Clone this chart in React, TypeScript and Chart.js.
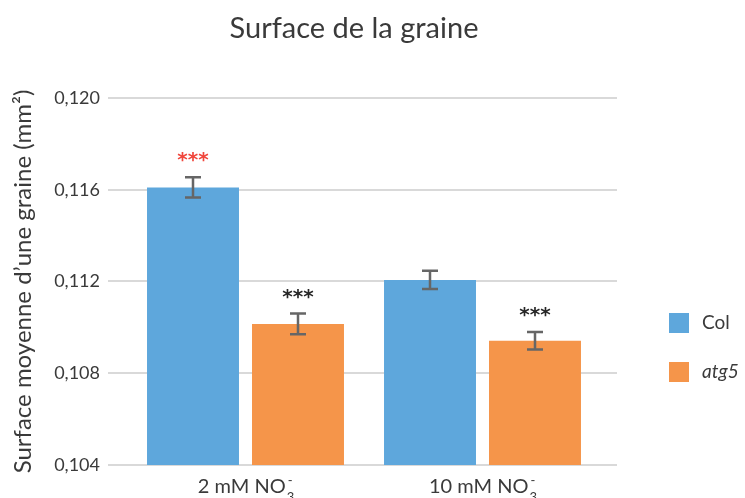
import React, { useEffect, useRef } from 'react';
import { Chart, registerables } from 'chart.js';

Chart.register(...registerables);

// ---- data ----
const categories = ['2 mM NO', '10 mM NO'];
const categorySub = ['3', '3'];
const categorySup = ['-', '-'];
const seriesNames = ['Col', 'atg5'];
const colValues = [0.1161, 0.11207];
const atg5Values = [0.11015, 0.10942];
const colErrors = [0.00044, 0.0004];
const atg5Errors = [0.00045, 0.00038];
const colStars = ['***', ''];
const atg5Stars = ['***', '***'];
const yTicks = [0.104, 0.108, 0.112, 0.116, 0.12];
const chartTitle = 'Surface de la graine';
const yTitle = 'Surface moyenne d\u2019une graine (mm\u00b2)';

// ---- styles ----
const FONT = 'Lato, "Open Sans", sans-serif';
const TEXT = '#3a3a3a';
const BLUE = '#5EA7DC';
const ORANGE = '#F5954A';
const GRID = '#d9d9d9';
const ERR = '#666666';
const STAR_RED = '#F0463C';
const STAR_BLACK = '#262626';

const overlay = {
  id: 'overlay',
  beforeDatasetsDraw(chart: any) {
    const { ctx, chartArea } = chart;
    const y = chart.scales.y;
    ctx.save();
    ctx.strokeStyle = GRID;
    ctx.lineWidth = 2;
    yTicks.forEach((v) => {
      const py = Math.round(y.getPixelForValue(v));
      ctx.beginPath();
      ctx.moveTo(chartArea.left - 19, py);
      ctx.lineTo(chartArea.right + 16, py);
      ctx.stroke();
    });
    ctx.restore();
  },
  afterDatasetsDraw(chart: any) {
    const { ctx } = chart;
    const y = chart.scales.y;
    const errs = [colErrors, atg5Errors];
    const vals = [colValues, atg5Values];
    const stars = [colStars, atg5Stars];
    const starColors = [STAR_RED, STAR_BLACK];
    ctx.save();
    for (let d = 0; d < 2; d++) {
      const meta = chart.getDatasetMeta(d);
      meta.data.forEach((bar: any, i: number) => {
        const v = vals[d][i];
        const e = errs[d][i];
        const x = Math.round(bar.x);
        const top = y.getPixelForValue(v + e);
        const bot = y.getPixelForValue(v - e);
        ctx.strokeStyle = ERR;
        ctx.lineWidth = 2.5;
        ctx.beginPath();
        ctx.moveTo(x, top);
        ctx.lineTo(x, bot);
        ctx.moveTo(x - 8, top);
        ctx.lineTo(x + 8, top);
        ctx.moveTo(x - 8, bot);
        ctx.lineTo(x + 8, bot);
        ctx.stroke();
        const s = stars[d][i];
        if (s) {
          ctx.fillStyle = starColors[d];
          ctx.font = `bold 20px "DejaVu Sans", sans-serif`;
          ctx.textAlign = 'center';
          ctx.textBaseline = 'alphabetic';
          ctx.fillText(s, x, top - 11);
        }
      });
    }
    ctx.restore();
  },
  afterDraw(chart: any) {
    const { ctx } = chart;
    const xs = chart.scales.x;
    ctx.save();
    // title
    ctx.fillStyle = TEXT;
    ctx.font = `29px ${FONT}`;
    ctx.textAlign = 'center';
    ctx.textBaseline = 'alphabetic';
    ctx.fillText(chartTitle, 354, 38);

    // x labels
    categories.forEach((lab, i) => {
      const cx = xs.getPixelForValue(i);
      ctx.font = `20px ${FONT}`;
      const w1 = ctx.measureText(lab).width;
      ctx.font = `13px ${FONT}`;
      const w2 = Math.max(ctx.measureText(categorySub[i]).width, ctx.measureText(categorySup[i]).width);
      const x0 = cx - (w1 + w2) / 2;
      ctx.textAlign = 'left';
      ctx.font = `20px ${FONT}`;
      ctx.fillText(lab, x0, 493);
      ctx.font = `13px ${FONT}`;
      ctx.fillText(categorySub[i], x0 + w1 + 1, 502);
      ctx.fillText(categorySup[i], x0 + w1 + 2, 485);
    });

    // legend
    const colors = [BLUE, ORANGE];
    const legY = [313, 362];
    seriesNames.forEach((n, i) => {
      ctx.fillStyle = colors[i];
      ctx.fillRect(669, legY[i], 20, 20);
      ctx.fillStyle = TEXT;
      ctx.font = `${i === 1 ? 'italic ' : ''}19px ${FONT}`;
      ctx.textAlign = 'left';
      ctx.fillText(n, 702, legY[i] + 16);
    });
    ctx.restore();
  },
};

export default function App() {
  const ref = useRef<HTMLCanvasElement>(null);
  useEffect(() => {
    if (!ref.current) return;
    const chart = new Chart(ref.current, {
      type: 'bar',
      data: {
        labels: categories,
        datasets: [
          { label: seriesNames[0], data: colValues, backgroundColor: BLUE, borderWidth: 0 },
          { label: seriesNames[1], data: atg5Values, backgroundColor: ORANGE, borderWidth: 0 },
        ],
      },
      options: {
        responsive: false,
        animation: false,
        devicePixelRatio: 1,
        layout: { padding: { left: 0, right: 144, top: 98, bottom: 33 } },
        datasets: { bar: { categoryPercentage: 0.886, barPercentage: 0.876 } },
        plugins: { legend: { display: false }, tooltip: { enabled: false }, title: { display: false } },
        scales: {
          x: { display: false, offset: true },
          y: {
            min: 0.104,
            max: 0.12,
            afterFit: (s: any) => { s.width = 127; },
            afterBuildTicks: (s: any) => { s.ticks = yTicks.map((v) => ({ value: v })); },
            grid: { display: false, drawTicks: true, tickLength: 25 },
            border: { display: false },
            ticks: {
              padding: 2,
              color: TEXT,
              font: { family: FONT, size: 18 },
              callback: (v: any) => (Math.round(Number(v) * 1000) / 1000).toFixed(3).replace('.', ','),
            },
            title: {
              display: true,
              text: yTitle,
              color: TEXT,
              font: { family: FONT, size: 24 },
              padding: { top: 9, bottom: 0 },
            },
          },
        },
      },
      plugins: [overlay],
    } as any);
    return () => chart.destroy();
  }, []);
  return (
    <div style={{ position: 'absolute', left: 0, top: 0, width: 745, height: 498, background: '#fff' }}>
      <canvas ref={ref} width={745} height={498} style={{ display: 'block' }} />
    </div>
  );
}
